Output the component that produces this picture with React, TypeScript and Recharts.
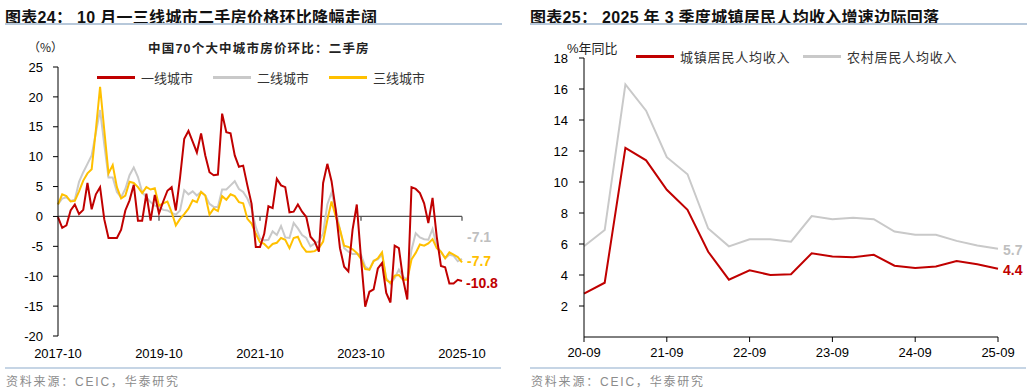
import React from 'react';
import { Line, LineChart, ReferenceLine, XAxis, YAxis } from 'recharts';

const RED = '#c00000';
const GRAY = '#c9c9c9';
const GOLD = '#ffc000';
const NUM_FONT = '"Liberation Sans", Arial, sans-serif';
const CJK_FONT = '"Liberation Sans", "Noto Sans CJK SC", sans-serif';

function monthLabels(startYear: number, startMonth: number, count: number) {
  const out: string[] = [];
  for (let i = 0; i < count; i++) {
    const m = startMonth - 1 + i;
    const y = startYear + Math.floor(m / 12);
    out.push(`${y}-${String((m % 12) + 1).padStart(2, '0')}`);
  }
  return out;
}

// 图表24: 70城二手房价格环比（%）
const months = monthLabels(2017, 10, 97);
const tier1 = [
  -0.1, -1.9, -1.5, 1.0, 2.0, 0.4, 1.1, 5.6, 1.2, 3.7, 4.9, -0.5, -3.6, -3.6, -3.6, -2.2,
  1.0, 2.7, 5.3, -0.7, -0.7, 3.8, -0.7, 3.6, 0.5, 2.5, 4.3, 4.9, 1.0, 6.5, 13.0, 14.3,
  12.5, 10.7, 13.9, 10.2, 7.4, 6.9, 7.0, 17.2, 14.1, 13.9, 10.2, 8.3, 8.5, 5.2, 2.1, -5.1,
  -5.1, -2.9, 1.7, 1.4, 6.3, 5.2, 4.9, 0.7, 0.8, 2.0, 0.8, -0.1, -3.4, -4.2, -5.9, 5.6,
  8.8, 5.9, 1.1, -5.3, -8.4, -9.2, -2.2, 2.0, -7.0, -15.1, -12.6, -12.2, -8.7, -7.8, -12.8, -14.4,
  -4.9, -5.3, -10.5, -13.9, 4.9, 4.6, 3.9, 2.2, -1.1, 3.1, -3.4, -8.3, -8.5, -11.2, -11.2, -10.6,
  -10.8,
];
const tier2 = [
  2.0, 3.0, 3.2, 2.6, 2.8, 5.8, 7.4, 8.8, 10.2, 14.0, 17.8, 12.0, 6.5, 6.5, 4.1, 3.2,
  4.6, 6.9, 8.2, 6.6, 4.1, 3.2, 2.4, 1.8, 1.6, 1.1, 1.0, 0.6, 0.3, 1.0, 4.4, 3.7,
  4.2, 3.5, 4.1, 3.5, 2.1, 1.6, 1.6, 4.5, 4.5, 5.2, 5.9, 4.6, 4.1, 3.0, 1.3, -1.8,
  -3.7, -4.0, -3.9, -2.5, -3.1, -1.6, -3.5, -3.6, -1.1, -2.0, -3.1, -3.6, -5.0, -4.5, -4.2, -2.8,
  2.0, 4.0, 1.1, -2.2, -5.3, -5.9, -6.3, -6.3, -6.4, -8.4, -8.9, -7.4, -7.2, -6.4, -10.3, -11.3,
  -10.3, -8.9, -10.1, -10.6, -5.6, -2.8, -3.5, -3.8, -3.9, -2.1, -5.0, -5.9, -7.0, -6.4, -6.6, -7.5,
  -7.1,
];
const tier3 = [
  2.0, 3.7, 3.4, 2.5, 2.6, 4.2, 6.0, 7.2, 7.9, 14.5, 21.7, 14.4, 7.2, 8.6, 4.9, 3.0,
  3.5, 5.8, 5.6, 4.9, 3.9, 4.9, 4.5, 4.7, 1.8, 2.2, 2.5, 0.7, -1.5, -0.4, 0.4, 1.3,
  2.7, 2.4, 4.1, 3.5, 0.3, 1.3, 0.9, 3.4, 2.8, 3.7, 3.4, 2.4, 2.2, -0.4, -1.2, -2.9,
  -4.3, -4.6, -5.3, -4.6, -4.4, -3.6, -3.9, -5.3, -3.6, -3.4, -5.0, -5.9, -5.9, -5.8, -5.3, -4.2,
  -0.6, 2.5, 0.0, -2.2, -4.9, -5.1, -5.5, -6.1, -7.1, -8.8, -8.9, -7.5, -7.0, -6.0, -10.6, -11.1,
  -9.9, -9.8, -10.6, -10.6, -7.2, -6.1, -4.7, -4.9, -4.5, -3.8, -5.3, -5.9, -7.0, -6.0, -6.4, -6.8,
  -7.7,
];
const houseTicks = [-20, -15, -10, -5, 0, 5, 10, 15, 20, 25];
const zeroLineTicks = ['2019-10', '2021-10', '2023-10', '2025-10'];

// 图表25: 居民人均收入增速（%年同比）
const quarters = [
  '20-09', '20-12', '21-03', '21-06', '21-09', '21-12', '22-03', '22-06', '22-09', '22-12', '23-03',
  '23-06', '23-09', '23-12', '24-03', '24-06', '24-09', '24-12', '25-03', '25-06', '25-09',
];
const urbanIncome = [2.8, 3.5, 12.2, 11.4, 9.5, 8.2, 5.5, 3.7, 4.3, 4.0, 4.05, 5.4, 5.2, 5.15, 5.3, 4.6, 4.45, 4.55, 4.9, 4.7, 4.4];
const ruralIncome = [5.85, 6.9, 16.3, 14.6, 11.6, 10.5, 7.0, 5.85, 6.3, 6.3, 6.15, 7.8, 7.6, 7.7, 7.6, 6.8, 6.6, 6.6, 6.2, 5.9, 5.7];
const incomeTicks = [2, 4, 6, 8, 10, 12, 14, 16, 18];

const houseData = months.map((month, i) => ({ month, tier1: tier1[i], tier2: tier2[i], tier3: tier3[i] }));
const incomeData = quarters.map((q, i) => ({ q, urban: urbanIncome[i], rural: ruralIncome[i] }));

function endLabel(last: number, color: string, dx: number, dy: number) {
  return (props: any) => {
    if (props.index !== last) return null;
    return (
      <text
        x={props.x + dx}
        y={props.y + dy}
        fill={color}
        fontSize={14}
        fontWeight={700}
        fontFamily={NUM_FONT}
        dominantBaseline="central"
      >
        {Number(props.value).toFixed(1)}
      </text>
    );
  };
}

function LegendItem({ left, top, color, label, spacing = 0 }: any) {
  return (
    <div style={{ position: 'absolute', left, top, display: 'flex', alignItems: 'center', height: 16 }}>
      <span style={{ width: 38, height: 3, background: color, display: 'inline-block' }} />
      <span style={{ marginLeft: 6, fontSize: 13, color: '#333', letterSpacing: spacing, fontFamily: '"Noto Sans CJK SC", sans-serif' }}>
        {label}
      </span>
    </div>
  );
}

function Panel({ left, title, children }: any) {
  return (
    <>
      <div
        style={{
          position: 'absolute',
          left,
          top: 4,
          fontSize: 16,
          fontWeight: 700,
          color: '#111',
          letterSpacing: 0.3,
          fontFamily: CJK_FONT,
          whiteSpace: 'nowrap',
        }}
      >
        {title}
      </div>
      <div style={{ position: 'absolute', left, top: 23, width: 497, height: 2, background: '#b7c8da' }} />
      {children}
      <div style={{ position: 'absolute', left, top: 367, width: 496, height: 2, background: '#c6d5e5' }} />
      <div
        style={{
          position: 'absolute',
          left: left + 1,
          top: 372,
          fontSize: 12,
          color: '#8c8c8c',
          letterSpacing: 1.8,
          fontFamily: CJK_FONT,
        }}
      >
        资料来源：CEIC，华泰研究
      </div>
    </>
  );
}

export default function App() {
  const tickStyle = { fill: '#000', fontSize: 13, fontFamily: NUM_FONT };
  return (
    <div style={{ position: 'absolute', left: 0, top: 0, width: 1031, height: 392, background: '#fff', overflow: 'hidden' }}>
      <Panel left={5} title="图表24：  10 月一三线城市二手房价格环比降幅走阔">
        <div style={{ position: 'absolute', left: 28, top: 38, fontSize: 12, color: '#222', fontFamily: '"Noto Sans CJK SC", sans-serif' }}>（%）</div>
        <div
          style={{
            position: 'absolute',
            left: 148,
            top: 38,
            fontSize: 12.5,
            fontWeight: 700,
            color: '#222',
            letterSpacing: 1.2,
            fontFamily: CJK_FONT,
          }}
        >
          中国70个大中城市房价环比：二手房
        </div>
        <LegendItem left={97} top={69} color={RED} label="一线城市" />
        <LegendItem left={213} top={69} color={GRAY} label="二线城市" />
        <LegendItem left={329} top={69} color={GOLD} label="三线城市" />
        <div style={{ position: 'absolute', left: 0, top: 0 }}>
          <LineChart width={515} height={392} data={houseData} margin={{ top: 67, right: 53, bottom: 26, left: 8 }}>
            <XAxis
              dataKey="month"
              interval={23}
              axisLine={false}
              tickLine={false}
              tickSize={0}
              tickMargin={13}
              height={30}
              tick={tickStyle}
            />
            <YAxis
              domain={[-20, 25]}
              ticks={houseTicks}
              width={50}
              tickSize={5}
              tickMargin={10}
              axisLine={{ stroke: '#000' }}
              tickLine={{ stroke: '#000' }}
              tick={tickStyle}
              allowDataOverflow
            />
            <ReferenceLine y={0} stroke="#555" strokeWidth={1.3} />
            {zeroLineTicks.map((m) => (
              <ReferenceLine
                key={m}
                segment={[{ x: m, y: 0 }, { x: m, y: -0.7 }]}
                stroke="#555"
                strokeWidth={1.3}
              />
            ))}
            <Line dataKey="tier2" stroke={GRAY} strokeWidth={2} dot={false} isAnimationActive={false}
              label={endLabel(months.length - 1, '#bfbfbf', 5, -21.5)} />
            <Line dataKey="tier3" stroke={GOLD} strokeWidth={2} dot={false} isAnimationActive={false}
              label={endLabel(months.length - 1, GOLD, 5, -1)} />
            <Line dataKey="tier1" stroke={RED} strokeWidth={2} dot={false} isAnimationActive={false}
              label={endLabel(months.length - 1, RED, 4, 1.5)} />
          </LineChart>
        </div>
      </Panel>

      <Panel left={530} title="图表25：  2025 年 3 季度城镇居民人均收入增速边际回落">
        <div style={{ position: 'absolute', left: 567, top: 38, fontSize: 13, color: '#222', fontFamily: CJK_FONT }}>%年同比</div>
        <LegendItem left={636} top={48} color={RED} label="城镇居民人均收入" spacing={0.8} />
        <LegendItem left={803} top={48} color={GRAY} label="农村居民人均收入" spacing={0.8} />
        <div style={{ position: 'absolute', left: 515, top: 0 }}>
          <LineChart width={516} height={392} data={incomeData} margin={{ top: 58, right: 33, bottom: 25, left: 29 }}>
            <XAxis
              dataKey="q"
              interval={3}
              axisLine={{ stroke: '#000' }}
              tickLine={{ stroke: '#000' }}
              tickSize={5}
              tickMargin={6}
              height={30}
              tick={tickStyle}
            />
            <YAxis
              domain={[0, 18]}
              ticks={incomeTicks}
              width={40}
              tickSize={5}
              tickMargin={11}
              axisLine={{ stroke: '#000' }}
              tickLine={{ stroke: '#000' }}
              tick={tickStyle}
            />
            <Line dataKey="rural" stroke={GRAY} strokeWidth={2} dot={false} isAnimationActive={false}
              label={endLabel(quarters.length - 1, '#bfbfbf', 5, 1.5)} />
            <Line dataKey="urban" stroke={RED} strokeWidth={2} dot={false} isAnimationActive={false}
              label={endLabel(quarters.length - 1, RED, 5, 1.5)} />
          </LineChart>
        </div>
      </Panel>
    </div>
  );
}
